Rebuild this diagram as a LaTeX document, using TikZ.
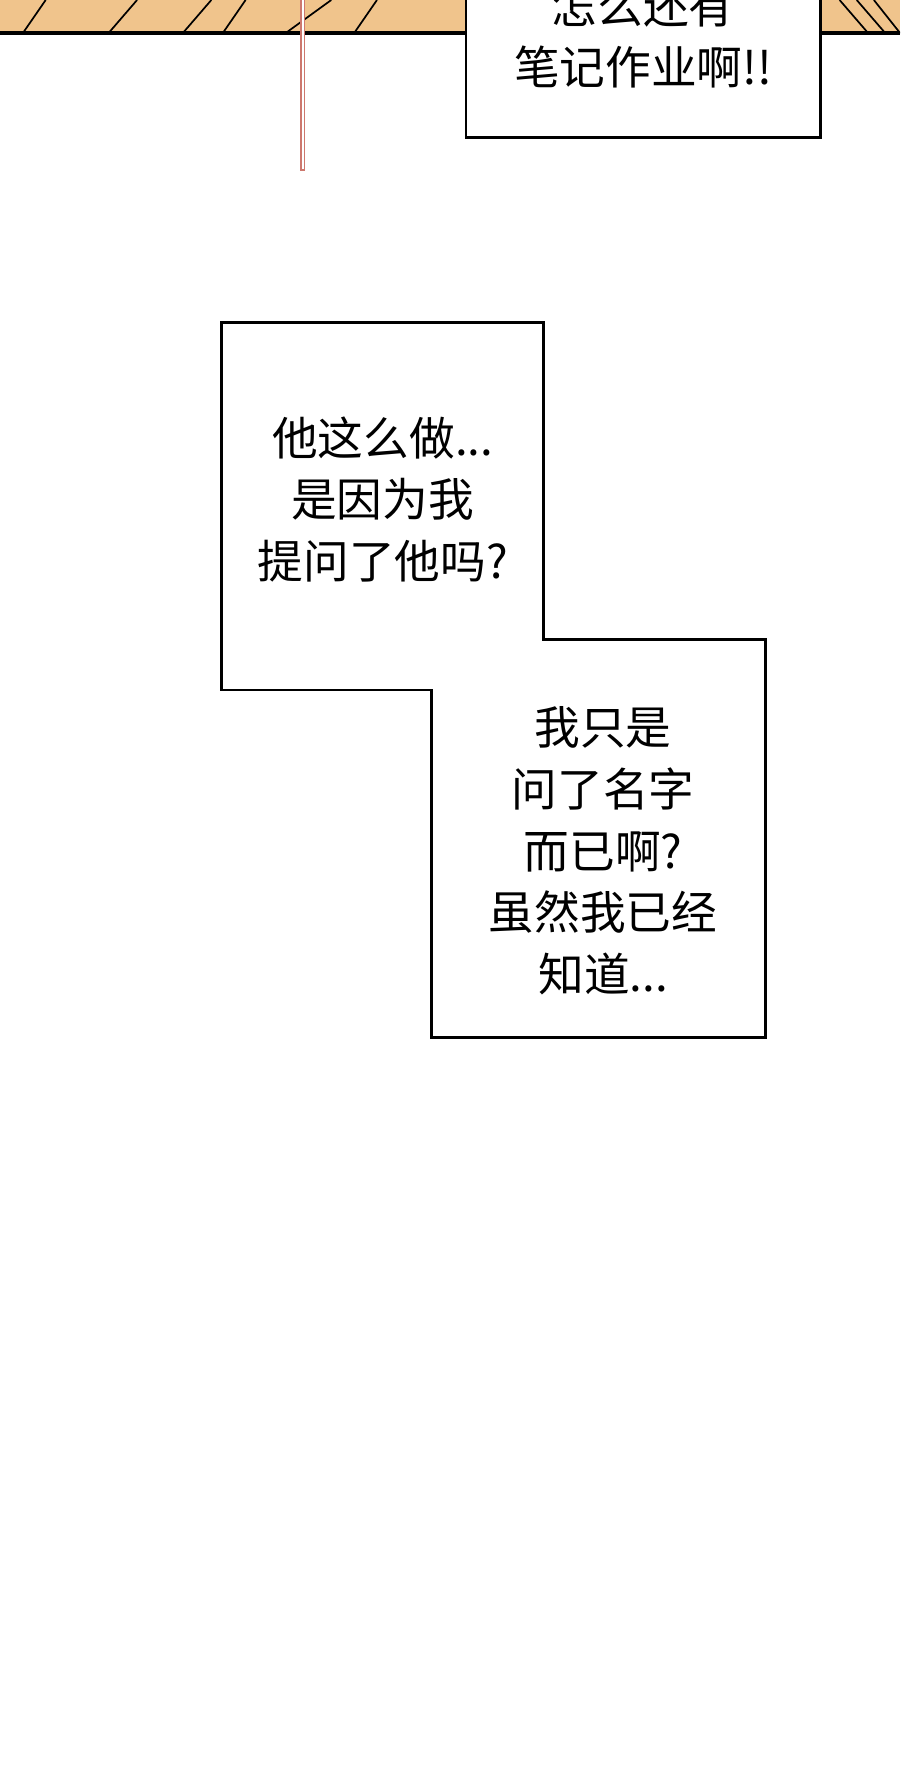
\documentclass[tikz,border=0pt]{standalone}
\usepackage{fontspec}
\newfontfamily\cjk{Noto Sans CJK SC}
\usetikzlibrary{positioning}
\tikzset{
  bubble/.style={draw=black,line width=2.5pt,fill=white},
  speech/.style={font=\cjk\fontsize{40}{54}\selectfont,align=center,inner sep=0pt},
}
\begin{document}
\begin{tikzpicture}[x=1pt,y=-1pt]
        \useasboundingbox (0,0) rectangle (788,1567);
        \clip (0,0) rectangle (788,1567);
        % panel strip at the top
        \fill[fill={rgb,255:red,240;green,196;blue,140}] (0,-5) rectangle (788,29);
        \foreach \xa/\xb in {40/20,120/95,185/160,215/195,290/250,330/310,735/760,750/775,765/788}
          \draw[line width=1.5pt] (\xa,0) -- (\xb,29);
        \draw[line width=3.5pt] (0,29) -- (788,29);
        % string
        \draw[line width=4pt,draw={rgb,255:red,205;green,120;blue,110}] (265,0) -- (265,150);
        \draw[line width=2pt,white] (265,0) -- (265,148);
        % top box
        \draw[bubble] (408,-10) rectangle (718,120);
        \node[speech] (topnote) at (563,32) {怎么还有\\笔记作业啊!!};
        % stepped box
        \draw[bubble] (194,282) -- (476,282) -- (476,560) -- (670,560) -- (670,908)
          -- (378,908) -- (378,604) -- (194,604) -- cycle;
        \node[speech] (question) at (335,437) {他这么做...\\是因为我\\提问了他吗?};
        \node[speech] (answer) at (528,745) {我只是\\问了名字\\而已啊?\\虽然我已经\\知道...};
\end{tikzpicture}
\end{document}
